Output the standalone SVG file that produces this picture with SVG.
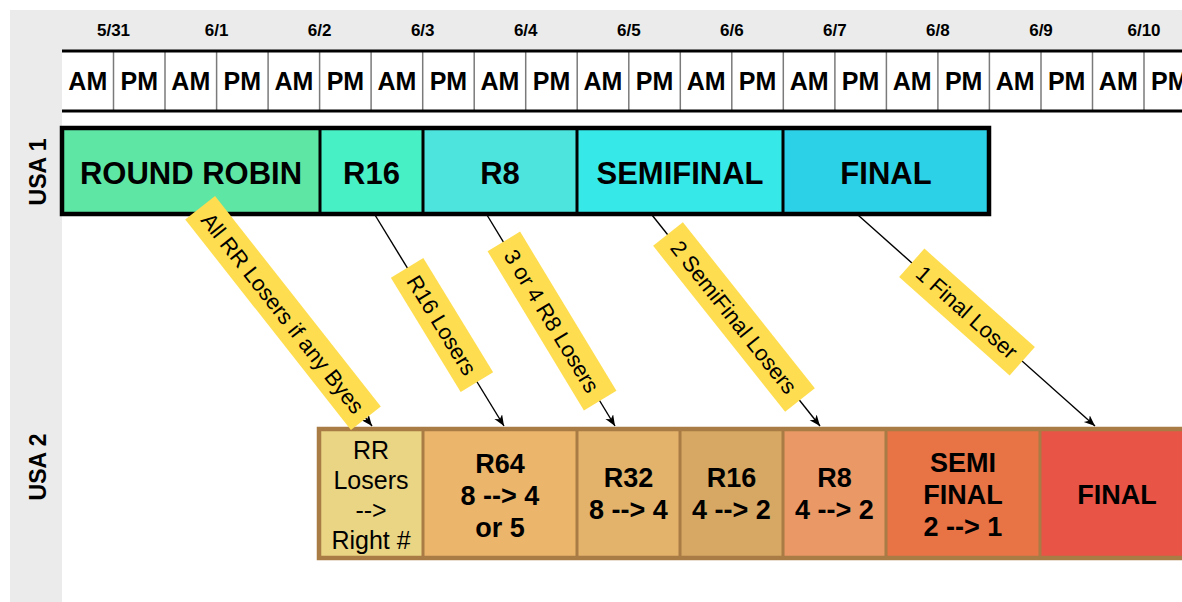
<svg xmlns="http://www.w3.org/2000/svg" width="1182" height="602" viewBox="0 0 1182 602">
<style>
text{font-family:"Liberation Sans",Arial,sans-serif;fill:#000}
.date{font-size:17px;font-weight:bold;text-anchor:middle}
.ampm{font-size:25px;font-weight:bold;text-anchor:middle}
.row{font-size:23px;font-weight:bold;text-anchor:middle}
.u1{font-size:31px;font-weight:bold;text-anchor:middle}
.u2{font-size:27px;font-weight:bold;text-anchor:middle}
.u2r{font-size:25px;text-anchor:middle}
.lbl{font-size:22px;text-anchor:middle}
.sep{stroke:#7a7a7a;stroke-width:1.5}
.d1{stroke:#000;stroke-width:3}
.d2{stroke:#A97B45;stroke-width:3}
.lblbox{fill:#FEDD50}
.conn{stroke:#000;stroke-width:1.4;fill:none;marker-end:url(#arr)}
</style>
<defs>
<marker id="arr" markerUnits="userSpaceOnUse" markerWidth="12" markerHeight="10" refX="11" refY="4.5" orient="auto">
<path d="M0,0 L11,4.5 L0,9 L3,4.5 z" fill="#000"/>
</marker>
</defs>
<rect width="1182" height="602" fill="#fff"/>
<g id="background">
<rect x="10" y="10" width="1172" height="40" fill="#EBEBEB"/>
<rect x="10" y="10" width="52" height="592" fill="#EBEBEB"/>
</g>
<g id="header">
<rect x="62" y="50" width="1120" height="62" fill="#fff"/>
<g class="dates">
<text class="date" x="113.5" y="36">5/31</text>
<text class="date" x="216.6" y="36">6/1</text>
<text class="date" x="319.6" y="36">6/2</text>
<text class="date" x="422.7" y="36">6/3</text>
<text class="date" x="525.7" y="36">6/4</text>
<text class="date" x="628.8" y="36">6/5</text>
<text class="date" x="731.8" y="36">6/6</text>
<text class="date" x="834.9" y="36">6/7</text>
<text class="date" x="937.9" y="36">6/8</text>
<text class="date" x="1041" y="36">6/9</text>
<text class="date" x="1144" y="36">6/10</text>
</g>
<g class="seps">
<line class="sep" x1="113.5" y1="51" x2="113.5" y2="111"/>
<line class="sep" x1="165" y1="51" x2="165" y2="111"/>
<line class="sep" x1="216.6" y1="51" x2="216.6" y2="111"/>
<line class="sep" x1="268.1" y1="51" x2="268.1" y2="111"/>
<line class="sep" x1="319.6" y1="51" x2="319.6" y2="111"/>
<line class="sep" x1="371.1" y1="51" x2="371.1" y2="111"/>
<line class="sep" x1="422.7" y1="51" x2="422.7" y2="111"/>
<line class="sep" x1="474.2" y1="51" x2="474.2" y2="111"/>
<line class="sep" x1="525.7" y1="51" x2="525.7" y2="111"/>
<line class="sep" x1="577.2" y1="51" x2="577.2" y2="111"/>
<line class="sep" x1="628.8" y1="51" x2="628.8" y2="111"/>
<line class="sep" x1="680.3" y1="51" x2="680.3" y2="111"/>
<line class="sep" x1="731.8" y1="51" x2="731.8" y2="111"/>
<line class="sep" x1="783.3" y1="51" x2="783.3" y2="111"/>
<line class="sep" x1="834.9" y1="51" x2="834.9" y2="111"/>
<line class="sep" x1="886.4" y1="51" x2="886.4" y2="111"/>
<line class="sep" x1="937.9" y1="51" x2="937.9" y2="111"/>
<line class="sep" x1="989.4" y1="51" x2="989.4" y2="111"/>
<line class="sep" x1="1041" y1="51" x2="1041" y2="111"/>
<line class="sep" x1="1092.5" y1="51" x2="1092.5" y2="111"/>
<line class="sep" x1="1144" y1="51" x2="1144" y2="111"/>
</g>
<line x1="62" y1="51" x2="1182" y2="51" stroke="#000" stroke-width="3"/>
<line x1="62" y1="111" x2="1182" y2="111" stroke="#000" stroke-width="3"/>
<g class="ampmtxt">
<text class="ampm" x="87.8" y="90">AM</text>
<text class="ampm" x="139.3" y="90">PM</text>
<text class="ampm" x="190.8" y="90">AM</text>
<text class="ampm" x="242.3" y="90">PM</text>
<text class="ampm" x="293.9" y="90">AM</text>
<text class="ampm" x="345.4" y="90">PM</text>
<text class="ampm" x="396.9" y="90">AM</text>
<text class="ampm" x="448.4" y="90">PM</text>
<text class="ampm" x="500" y="90">AM</text>
<text class="ampm" x="551.5" y="90">PM</text>
<text class="ampm" x="603" y="90">AM</text>
<text class="ampm" x="654.5" y="90">PM</text>
<text class="ampm" x="706.1" y="90">AM</text>
<text class="ampm" x="757.6" y="90">PM</text>
<text class="ampm" x="809.1" y="90">AM</text>
<text class="ampm" x="860.6" y="90">PM</text>
<text class="ampm" x="912.2" y="90">AM</text>
<text class="ampm" x="963.7" y="90">PM</text>
<text class="ampm" x="1015.2" y="90">AM</text>
<text class="ampm" x="1066.7" y="90">PM</text>
<text class="ampm" x="1118.3" y="90">AM</text>
<text class="ampm" x="1169.8" y="90">PM</text>
</g>
</g>
<text class="row" transform="translate(46,172) rotate(-90)">USA 1</text>
<text class="row" transform="translate(46,467) rotate(-90)">USA 2</text>
<g id="usa1">
<rect x="62" y="128" width="258" height="86" fill="#5EE6A4"/>
<rect x="320" y="128" width="103" height="86" fill="#48F0C6"/>
<rect x="423" y="128" width="154" height="86" fill="#4EE4DE"/>
<rect x="577" y="128" width="206" height="86" fill="#36E8E8"/>
<rect x="783" y="128" width="206" height="86" fill="#2CD0E7"/>
<line class="d1" x1="320" y1="128" x2="320" y2="214"/>
<line class="d1" x1="423" y1="128" x2="423" y2="214"/>
<line class="d1" x1="577" y1="128" x2="577" y2="214"/>
<line class="d1" x1="783" y1="128" x2="783" y2="214"/>
<rect x="62" y="128" width="927" height="86" fill="none" stroke="#000" stroke-width="4.5"/>
<text class="u1" x="191" y="184">ROUND ROBIN</text>
<text class="u1" x="371.5" y="184">R16</text>
<text class="u1" x="500" y="184">R8</text>
<text class="u1" x="680" y="184">SEMIFINAL</text>
<text class="u1" x="886" y="184">FINAL</text>
</g>
<g id="usa2">
<rect x="319" y="429" width="104" height="129" fill="#E9D583"/>
<rect x="423" y="429" width="154" height="129" fill="#EBB56B"/>
<rect x="577" y="429" width="103" height="129" fill="#E3B36C"/>
<rect x="680" y="429" width="103" height="129" fill="#D6A863"/>
<rect x="783" y="429" width="103" height="129" fill="#EA9865"/>
<rect x="886" y="429" width="154" height="129" fill="#E87345"/>
<rect x="1040" y="429" width="150" height="129" fill="#E85445"/>
<line class="d2" x1="423" y1="429" x2="423" y2="558"/>
<line class="d2" x1="577" y1="429" x2="577" y2="558"/>
<line class="d2" x1="680" y1="429" x2="680" y2="558"/>
<line class="d2" x1="783" y1="429" x2="783" y2="558"/>
<line class="d2" x1="886" y1="429" x2="886" y2="558"/>
<line class="d2" x1="1040" y1="429" x2="1040" y2="558"/>
<rect x="319" y="429" width="880" height="129" fill="none" stroke="#A97B45" stroke-width="4.5"/>
<text class="u2r" x="371" y="459">RR</text>
<text class="u2r" x="371" y="489">Losers</text>
<text class="u2r" x="371" y="519">--&gt;</text>
<text class="u2r" x="371" y="549">Right #</text>
<text class="u2" x="500" y="473">R64</text>
<text class="u2" x="500" y="505">8 --&gt; 4</text>
<text class="u2" x="500" y="537">or 5</text>
<text class="u2" x="628.5" y="487">R32</text>
<text class="u2" x="628.5" y="519">8 --&gt; 4</text>
<text class="u2" x="731.5" y="487">R16</text>
<text class="u2" x="731.5" y="519">4 --&gt; 2</text>
<text class="u2" x="834.5" y="487">R8</text>
<text class="u2" x="834.5" y="519">4 --&gt; 2</text>
<text class="u2" x="963" y="472">SEMI</text>
<text class="u2" x="963" y="504">FINAL</text>
<text class="u2" x="963" y="536">2 --&gt; 1</text>
<text class="u2" x="1117" y="504">FINAL</text>
</g>
<g id="connectors">
<line class="conn" x1="205" y1="214" x2="372" y2="426"/>
<line class="conn" x1="375" y1="215" x2="504" y2="426"/>
<line class="conn" x1="487" y1="215" x2="615" y2="426"/>
<line class="conn" x1="652" y1="215" x2="820" y2="426"/>
<line class="conn" x1="858" y1="215" x2="1095" y2="426"/>
</g>
<g id="labels">
<g transform="translate(283,313) rotate(51.8)"><rect class="lblbox" x="-134" y="-19" width="268" height="38"/><text class="lbl" x="0" y="8">All RR Losers if any Byes</text></g>
<g transform="translate(442,325) rotate(58.6)"><rect class="lblbox" x="-67" y="-19" width="134" height="38"/><text class="lbl" x="0" y="8">R16 Losers</text></g>
<g transform="translate(552,321) rotate(58.8)"><rect class="lblbox" x="-93" y="-19" width="186" height="38"/><text class="lbl" x="0" y="8">3 or 4 R8 Losers</text></g>
<g transform="translate(734,317) rotate(51.5)"><rect class="lblbox" x="-106" y="-19" width="212" height="38"/><text class="lbl" x="0" y="8">2 SemiFinal Losers</text></g>
<g transform="translate(967,312) rotate(41.7)"><rect class="lblbox" x="-74" y="-19" width="148" height="38"/><text class="lbl" x="0" y="8">1 Final Loser</text></g>
</g>
</svg>
